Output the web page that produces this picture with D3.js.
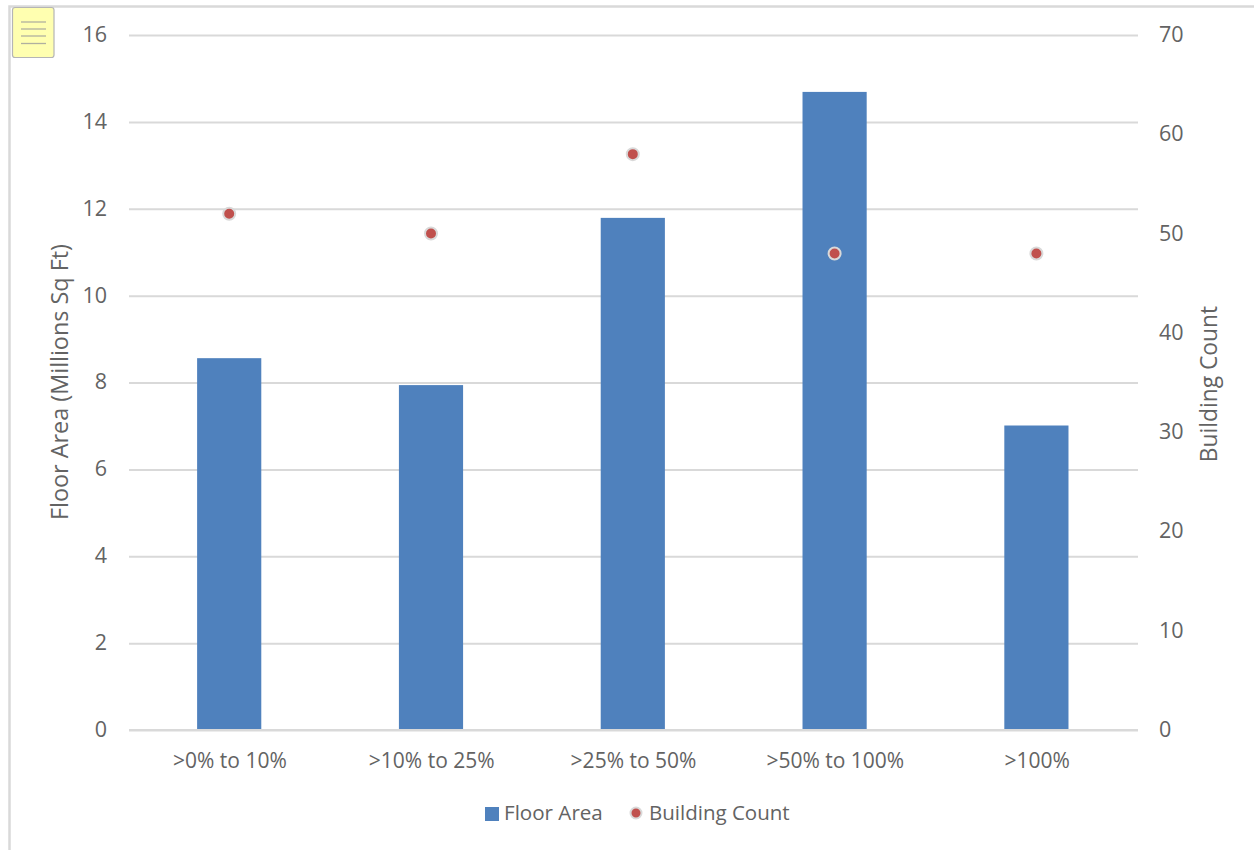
<!DOCTYPE html>
<html>
<head>
<meta charset="utf-8">
<script src="https://cdn.jsdelivr.net/npm/d3@7/dist/d3.min.js"></script>
<style>
  html, body { margin: 0; padding: 0; background: #fff; }
  svg { display: block; }
  text { font-family: "Open Sans", "Noto Sans", sans-serif; fill: #636363; }
</style>
</head>
<body>
<svg id="chart" width="1254" height="850"></svg>
<script>
const categories = [">0% to 10%", ">10% to 25%", ">25% to 50%", ">50% to 100%", ">100%"];
const floorArea = [8.56, 7.94, 11.79, 14.69, 7.01];
const buildingCount = [52, 50, 58, 48, 48];
const leftTicks = [0, 2, 4, 6, 8, 10, 12, 14, 16];
const rightTicks = [0, 10, 20, 30, 40, 50, 60, 70];

const svg = d3.select("#chart");
const plot = { left: 129, right: 1138, top: 35, bottom: 730 };
const gridColor = "#d9d9d9";
const barColor = "#4f81bd";
const dotColor = "#c0504d";
const textColor = "#636363";

const x = d3.scaleBand().domain(categories).range([plot.left - 0.7, plot.right - 0.7]).paddingInner(0.682).paddingOuter(0.341);
const yLeft = d3.scaleLinear().domain([0, 16]).range([plot.bottom, plot.top]);
const yRight = d3.scaleLinear().domain([0, 70]).range([plot.bottom, plot.top]);

// Outer frame: only the top and left edges are visible
svg.append("path")
  .attr("d", "M1254,6.5H9.5V850")
  .attr("fill", "none")
  .attr("stroke", "#d9d9d9")
  .attr("stroke-width", 2.5);

// Horizontal gridlines, drawn through the left axis ticks
const leftAxis = svg.append("g")
  .attr("transform", `translate(${plot.left},0)`)
  .call(d3.axisLeft(yLeft).tickValues(leftTicks).tickSize(-(plot.right - plot.left)).tickPadding(22));
leftAxis.select(".domain").remove();
leftAxis.selectAll("line").attr("stroke", gridColor).attr("stroke-width", 2);
leftAxis.selectAll("text").style("font-size", "21.5px").attr("fill", textColor).attr("dy", "0.3em");

const rightAxis = svg.append("g")
  .attr("transform", `translate(${plot.right},0)`)
  .call(d3.axisRight(yRight).tickValues(rightTicks).tickSize(0).tickPadding(21));
rightAxis.select(".domain").remove();
rightAxis.selectAll("text").style("font-size", "21.5px").attr("fill", textColor).attr("dy", "0.3em");

// Floor area bars
svg.append("g").selectAll("rect")
  .data(categories)
  .join("rect")
  .attr("x", d => x(d))
  .attr("width", x.bandwidth())
  .attr("y", (d, i) => yLeft(floorArea[i]))
  .attr("height", (d, i) => yLeft(0) - yLeft(floorArea[i]))
  .attr("fill", barColor);

// Category axis
const bottomAxis = svg.append("g")
  .attr("transform", `translate(0,${plot.bottom})`)
  .call(d3.axisBottom(x).tickSize(0).tickPadding(23));
bottomAxis.select(".domain").attr("d", `M${plot.left},0H${plot.right}`).attr("stroke", gridColor).attr("stroke-width", 2);
bottomAxis.selectAll("text").style("font-size", "21px").attr("fill", textColor).attr("x", 0.7);

// Building count markers
svg.append("g").selectAll("circle")
  .data(categories)
  .join("circle")
  .attr("cx", d => x(d) + x.bandwidth() / 2)
  .attr("cy", (d, i) => yRight(buildingCount[i]))
  .attr("r", 6)
  .attr("fill", dotColor)
  .attr("stroke", "#d9d9d9")
  .attr("stroke-width", 2);

// Axis titles
svg.append("text")
  .attr("transform", "translate(62,382) rotate(-90)")
  .attr("text-anchor", "middle")
  .attr("dominant-baseline", "middle")
  .style("font-size", "23.4px")
  .text("Floor Area (Millions Sq Ft)");
svg.append("text")
  .attr("transform", "translate(1211,384) rotate(-90)")
  .attr("text-anchor", "middle")
  .attr("dominant-baseline", "middle")
  .style("font-size", "22.8px")
  .text("Building Count");

// Legend
const legend = svg.append("g");
legend.append("rect").attr("x", 485).attr("y", 807).attr("width", 14).attr("height", 14).attr("fill", barColor);
legend.append("text").attr("x", 504).attr("y", 820).style("font-size", "20.6px").text("Floor Area");
legend.append("circle").attr("cx", 636).attr("cy", 813).attr("r", 5.5).attr("fill", dotColor).attr("stroke", "#d9d9d9").attr("stroke-width", 2);
legend.append("text").attr("x", 649).attr("y", 820).style("font-size", "20.5px").text("Building Count");

// Sticky-note icon in the top-left corner
const note = svg.append("g");
note.append("rect")
  .attr("x", 12.5).attr("y", 7.5).attr("width", 41.5).attr("height", 50).attr("rx", 2.5)
  .attr("fill", "#ffffb0").attr("stroke", "#b5b5b5").attr("stroke-width", 1.2);
note.selectAll("line")
  .data([22, 29, 36, 43.5])
  .join("line")
  .attr("x1", 21).attr("x2", 46)
  .attr("y1", d => d).attr("y2", d => d)
  .attr("stroke", "#b0b0a0").attr("stroke-width", 1.3);
</script>
</body>
</html>
